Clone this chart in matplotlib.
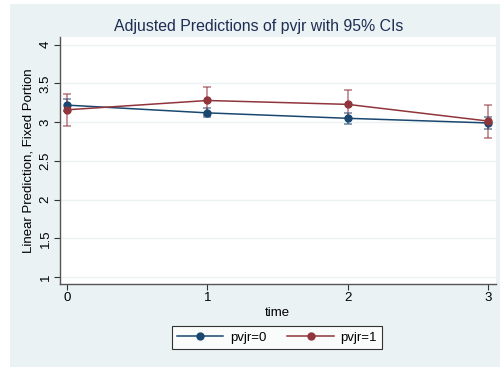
import matplotlib.pyplot as plt

plt.rcParams["font.family"] = ["Liberation Sans", "DejaVu Sans"]

time = [0, 1, 2, 3]
y_ticks = [1, 1.5, 2, 2.5, 3, 3.5, 4]
y_tick_labels = ["1", "1.5", "2", "2.5", "3", "3.5", "4"]

pvjr0_mean = [3.22, 3.12, 3.05, 2.99]
pvjr0_lo = [3.14, 3.065, 2.98, 2.91]
pvjr0_hi = [3.30, 3.18, 3.115, 3.07]

pvjr1_mean = [3.16, 3.28, 3.23, 3.015]
pvjr1_lo = [2.95, 3.095, 3.06, 2.80]
pvjr1_hi = [3.36, 3.45, 3.41, 3.22]

BG = "#eaf2f3"
BLUE = "#1a476f"
RED = "#90353b"

fig = plt.figure(figsize=(5, 3.67), dpi=100)
fig.patch.set_facecolor("white")
# stata graph region
fig.patches.append(plt.Rectangle((10 / 500, 0), 490 / 500, 363 / 367,
                                 transform=fig.transFigure, facecolor=BG,
                                 edgecolor="none", zorder=-1))

ax = fig.add_axes([60 / 500, 1 - 284 / 367, 435.6 / 500, 247 / 367])
ax.set_facecolor("white")

for mean, lo, hi, col, lab in [
    (pvjr0_mean, pvjr0_lo, pvjr0_hi, BLUE, "pvjr=0"),
    (pvjr1_mean, pvjr1_lo, pvjr1_hi, RED, "pvjr=1"),
]:
    yerr = [[m - l for m, l in zip(mean, lo)], [h - m for m, h in zip(mean, hi)]]
    ax.errorbar(time, mean, yerr=yerr, fmt="none", ecolor=col, alpha=0.6,
                elinewidth=1.2, capsize=2.6, capthick=1.2, zorder=3)
    ax.plot(time, mean, color=col, lw=1.1, marker="o", ms=5, label=lab, zorder=4)

ax.set_xlim(-0.052, 3.056)
ax.set_ylim(0.91, 4.10)
ax.set_xticks(time)
ax.set_yticks(y_ticks)
ax.set_yticklabels(y_tick_labels, rotation=90, va="center")
ax.tick_params(axis="both", labelsize=9.5, color="#333333", length=4,
               width=0.8, labelcolor="black", pad=2)
ax.grid(axis="y", color=BG, lw=1)
ax.set_axisbelow(True)

for s in ["top", "right"]:
    ax.spines[s].set_visible(False)
for s in ["left", "bottom"]:
    ax.spines[s].set_color("#555555")
    ax.spines[s].set_linewidth(1)

ax.set_xlabel("time", fontsize=9.5, labelpad=2)
ax.set_ylabel("Linear Prediction, Fixed Portion", fontsize=9.5, labelpad=4)

fig.text(259 / 500, 1 - 26 / 367, "Adjusted Predictions of pvjr with 95% CIs",
         ha="center", va="center", fontsize=11.4, color="#1e2d53")

leg = ax.legend(loc="center", bbox_to_anchor=(277 / 500, 1 - 337.5 / 367),
                bbox_transform=fig.transFigure,
                ncol=2, fontsize=9.5, frameon=True, fancybox=False,
                handlelength=3.5, columnspacing=1.6, borderpad=0.4,
                handletextpad=0.5)
leg.get_frame().set_edgecolor("black")
leg.get_frame().set_linewidth(0.8)

fig.savefig("out.png", dpi=100)
